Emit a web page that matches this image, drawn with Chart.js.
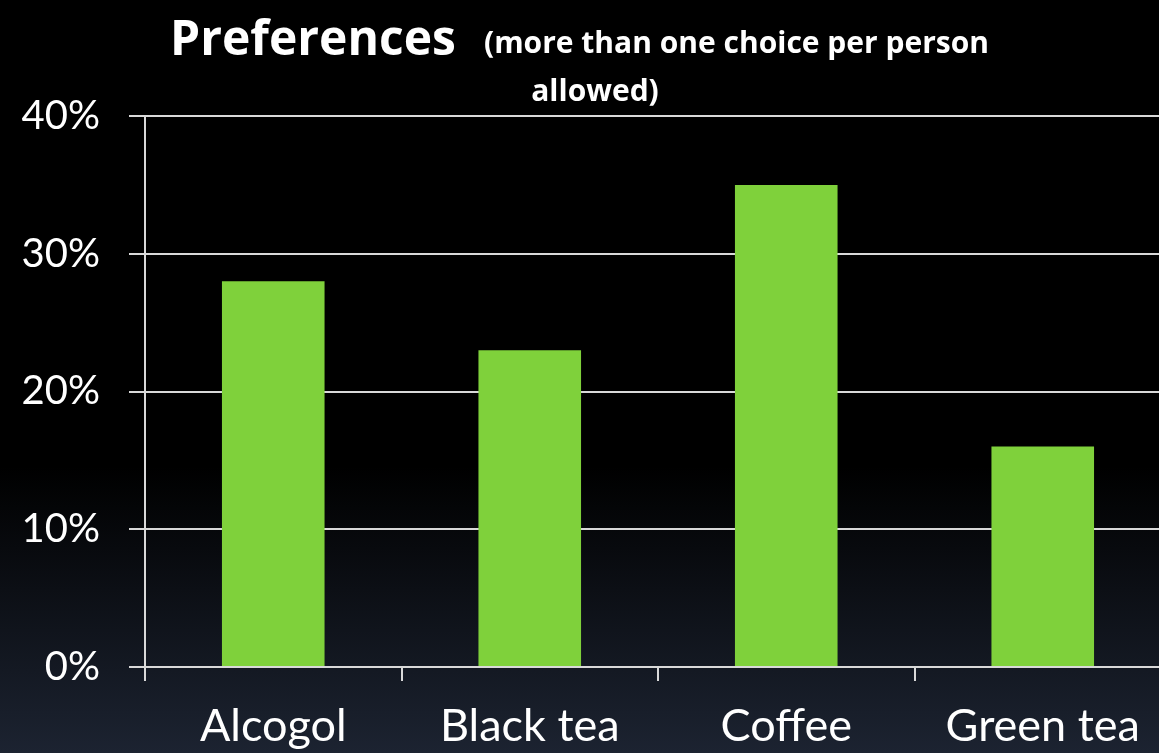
<!DOCTYPE html>
<html>
<head>
<meta charset="utf-8">
<script src="https://cdn.jsdelivr.net/npm/chart.js@4"></script>
<style>
  html, body { margin:0; padding:0; width:1159px; height:753px; overflow:hidden; }
  body { background: linear-gradient(to bottom, #000 0%, #000 62%, #1c2331 100%); }
  #wrap { position:relative; width:1175px; height:753px; }
</style>
</head>
<body>
<div id="wrap"><canvas id="c" width="1175" height="753"></canvas></div>
<script>
// chart data
const categories = ['Alcogol', 'Black tea', 'Coffee', 'Green tea'];
const shares = [28, 23, 35, 16]; // percent
const yTicks = [0, 10, 20, 30, 40];

const FONT = 'Lato, "Open Sans", sans-serif';
const TFONT = '"Open Sans", Lato, sans-serif';

// title drawn on the canvas: big word + smaller bold note wrapped to two lines
const titlePlugin = {
  id: 'titleText',
  afterDraw(chart) {
    const ctx = chart.ctx;
    ctx.save();
    ctx.fillStyle = '#fff';
    ctx.textBaseline = 'alphabetic';
    ctx.textAlign = 'left';
    ctx.font = 'bold 48px ' + TFONT;
    ctx.fillText('Preferences', 170, 55);
    ctx.font = 'bold 30px ' + TFONT;
    ctx.fillText('(more than one choice per person', 484, 53);
    ctx.textAlign = 'center';
    ctx.fillText('allowed)', 595, 101);
    ctx.restore();
  }
};

new Chart(document.getElementById('c'), {
  type: 'bar',
  data: {
    labels: categories,
    datasets: [{
      data: shares,
      backgroundColor: '#7fd13b',
      borderWidth: 0,
      barPercentage: 0.8,
      categoryPercentage: 0.5
    }]
  },
  options: {
    responsive: false,
    animation: false,
    layout: { padding: { top: 116, left: 0, right: 4, bottom: 0 } },
    plugins: { legend: { display: false }, tooltip: { enabled: false } },
    scales: {
      y: {
        min: 0, max: 40,
        afterFit(s) { s.width = 145; },
        afterBuildTicks(s) { s.ticks = yTicks.map(v => ({ value: v })); },
        ticks: {
          color: '#fff',
          font: { family: FONT, size: 40 },
          padding: 29,
          callback: v => v + '%'
        },
        grid: { color: '#d9d9d9', lineWidth: 2, tickLength: 16 },
        border: { color: '#d9d9d9', width: 2 }
      },
      x: {
        afterFit(s) { s.height = 86; },
        ticks: {
          color: '#fff',
          font: { family: FONT, size: 45 },
          padding: 18
        },
        grid: { color: '#d9d9d9', lineWidth: 2, tickLength: 14, drawOnChartArea: false, offset: true },
        border: { color: '#d9d9d9', width: 2 }
      }
    }
  },
  plugins: [titlePlugin]
});
</script>
</body>
</html>
